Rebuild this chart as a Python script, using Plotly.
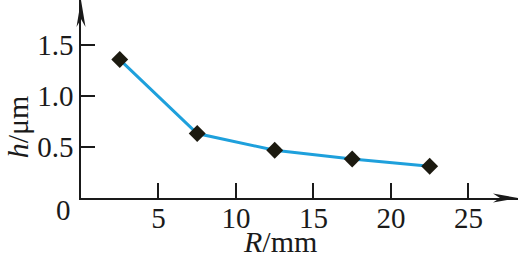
import plotly.graph_objects as go

# Data
R_mm = [2.5, 7.5, 12.5, 17.5, 22.5]
h_um = [1.353, 0.630, 0.466, 0.381, 0.310]
x_ticks = [5, 10, 15, 20, 25]
x_tick_labels = ["5", "10", "15", "20", "25"]
y_ticks = [0.5, 1.0, 1.5]
y_tick_labels = ["0.5", "1.0", "1.5"]

X_MAX = 28.2
Y_MAX = 1.935
FONT = "Liberation Serif"
FS = 29
FT = 30

fig = go.Figure()
fig.add_trace(go.Scatter(
    x=R_mm, y=h_um, mode="lines",
    line=dict(color="#1ea0dc", width=3),
    showlegend=False, hoverinfo="skip",
))
fig.add_trace(go.Scatter(
    x=R_mm, y=h_um, mode="markers",
    marker=dict(symbol="diamond", size=13, color="#1c1a10", line=dict(width=0)),
    showlegend=False,
))

fig.update_layout(
    width=519, height=260,
    margin=dict(l=81, r=1, t=0, b=62),
    paper_bgcolor="white", plot_bgcolor="white",
    font=dict(family=FONT, size=FS, color="#1a1a1a"),
    xaxis=dict(
        range=[0, X_MAX], tickvals=x_ticks, ticktext=x_tick_labels,
        showgrid=False, zeroline=False, showline=True, linecolor="#1a1a1a", linewidth=1.6,
        ticks="inside", ticklen=15, tickwidth=1.5, tickcolor="#1a1a1a",
        tickfont=dict(family=FONT, size=FS, color="#1a1a1a"),
        ticklabelstandoff=-7,
    ),
    yaxis=dict(
        range=[0, Y_MAX], tickvals=y_ticks, ticktext=y_tick_labels,
        showgrid=False, zeroline=False, showline=True, linecolor="#1a1a1a", linewidth=1.6,
        ticks="inside", ticklen=14, tickwidth=1.5, tickcolor="#1a1a1a",
        tickfont=dict(family=FONT, size=FS, color="#1a1a1a"),
    ),
    shapes=[
        dict(type="path", xref="paper", yref="paper", xsizemode="pixel", ysizemode="pixel",
             xanchor=1, yanchor=0,
             path="M0,0 L-25,4.5 L-18,0 L-25,-4.5 Z",
             fillcolor="#1a1a1a", line=dict(width=0)),
        dict(type="path", xref="paper", yref="paper", xsizemode="pixel", ysizemode="pixel",
             xanchor=0, yanchor=1,
             path="M0,0 L-4.5,-27 L0,-19 L4.5,-27 Z",
             fillcolor="#1a1a1a", line=dict(width=0)),
    ],
    annotations=[
        dict(text="0", xref="x", yref="y", x=0, y=0, xanchor="right", yanchor="middle",
             xshift=-8, yshift=-12, showarrow=False, font=dict(family=FONT, size=FS)),
        dict(text="<i>R</i>/mm", xref="paper", yref="paper", x=(280 - 81) / 437, y=0,
             xanchor="center", yanchor="bottom", yshift=-62, showarrow=False,
             font=dict(family=FONT, size=FT)),
        dict(text="<i>h</i>/μm", xref="paper", yref="paper", x=0, y=(197.7 - 127) / 198,
             xanchor="center", yanchor="middle", xshift=-64, textangle=-90, showarrow=False,
             font=dict(family=FONT, size=FT)),
    ],
)

fig.write_html("out.html")
